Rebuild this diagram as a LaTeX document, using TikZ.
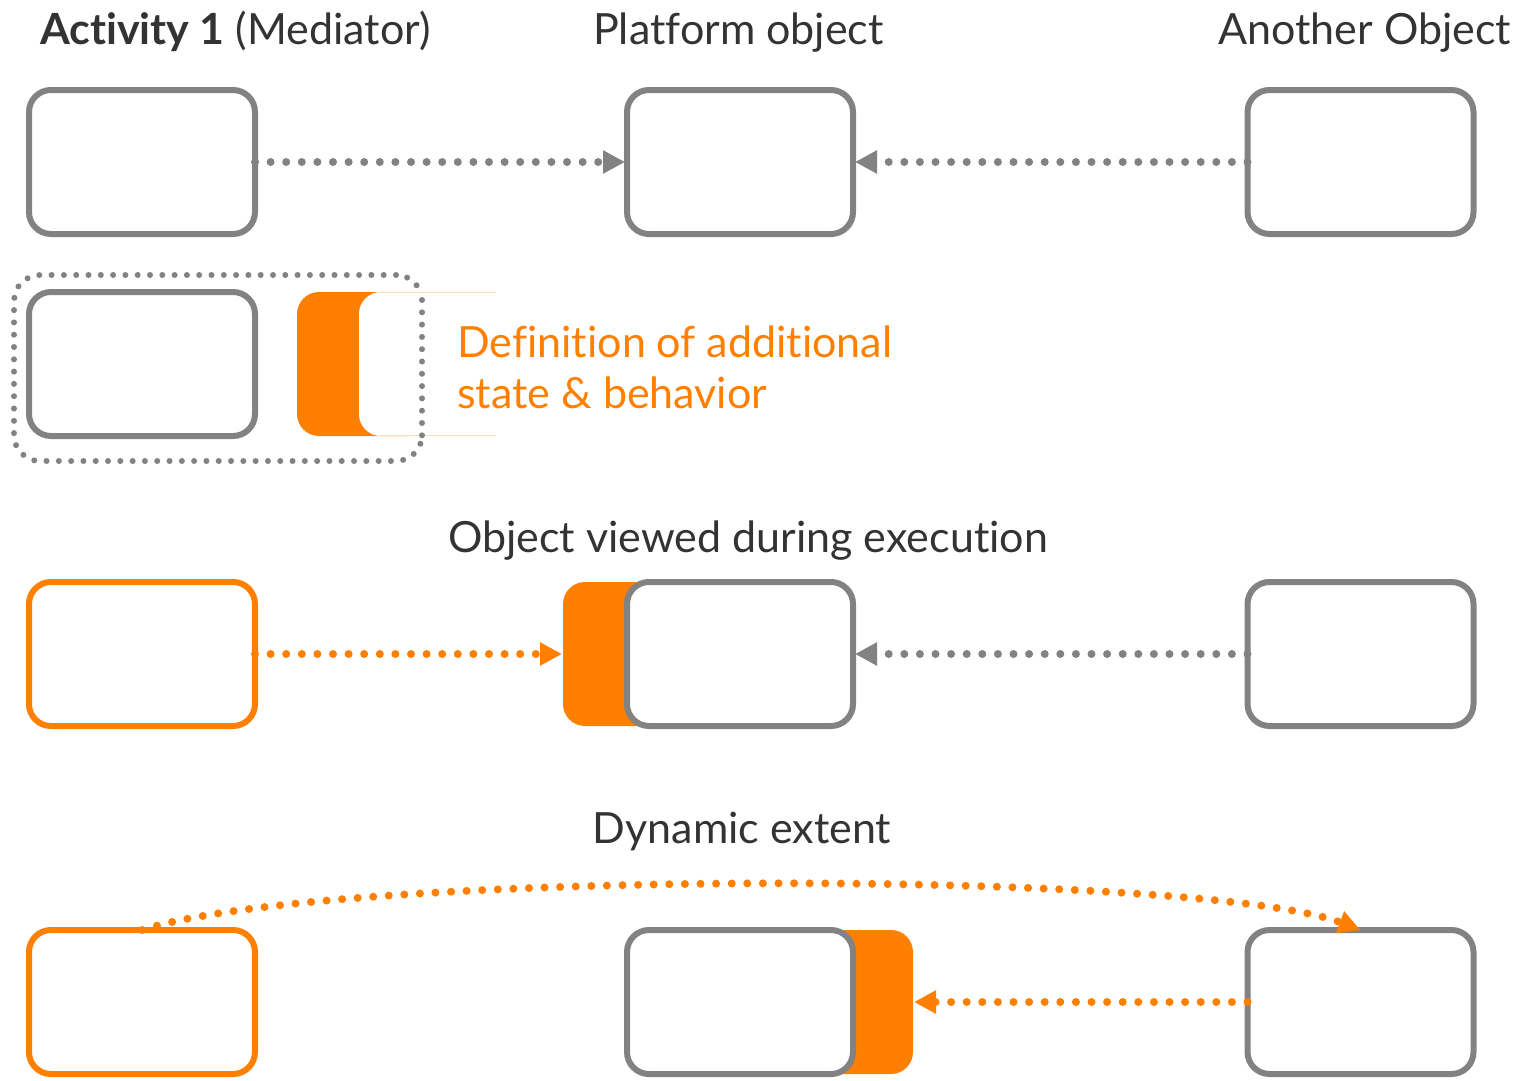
\documentclass[tikz,border=0pt]{standalone}
\usepackage{fontspec}
\setmainfont{Lato}[Ligatures=CommonOff]
\usetikzlibrary{arrows.meta}
\definecolor{og}{HTML}{FF8000}
\definecolor{ogl}{HTML}{FFDDB8}
\definecolor{gr}{HTML}{828282}
\definecolor{tx}{HTML}{333333}
\begin{document}
\begin{tikzpicture}[x=1pt,y=-1pt,
  box/.style={draw=gr,line width=6pt,rounded corners=22pt,minimum width=226pt,
    minimum height=144pt,inner sep=0pt,outer sep=0pt,fill=white},
  obox/.style={box,draw=og},
  ofill/.style={fill=og,rounded corners=22pt,inner sep=0pt,outer sep=0pt,minimum height=144pt},
  dots/.style={line width=8pt,line cap=round,dash pattern=on 0pt off 15.6pt},
  tip/.style={-{Triangle[length=22pt,width=22pt]}},
  lbl/.style={font=\fontsize{43}{51}\selectfont,text=tx,inner sep=0pt,anchor=base west},
  olbl/.style={lbl,text=og}]

\useasboundingbox (0,0) rectangle (1528,1081);

% column titles
\node[lbl] (h1) at (40,45) {\textbf{Activity 1} (Mediator)};
\node[lbl] (h2) at (593,45) {Platform object};
\node[lbl] (h3) at (1218,45) {Another Object};

% row 1: plain references
\node[box] (a1) at (142,162) {};
\node[box] (p1) at (740,162) {};
\node[box] (o1) at (1360.5,162) {};
\draw[gr,dots,tip,shorten >=2pt] (a1.east) -- (p1.west);
\draw[gr,dots,tip,shorten >=2pt] (o1.west) -- (p1.east);

% row 2: mediator with its extension definition
\node[draw=gr,line width=6pt,line cap=round,dash pattern=on 0pt off 12.3pt,
  rounded corners=26pt,minimum width=408pt,minimum height=186pt,inner sep=0pt]
  (grp) at (218,368) {};
\node[box] (a2) at (142,364) {};
\node[ofill,minimum width=133pt] (x2) at (363.5,364) {};
\fill[white,rounded corners=22pt] (359,292) rectangle (540,436);
\draw[ogl,line width=1.2pt] (380,292.5) -- (496,292.5);
\draw[ogl,line width=1.2pt] (380,435.5) -- (496,435.5);
\draw[gr,line width=6pt,line cap=round,dash pattern=on 0pt off 12.3pt]
  (422,300) -- (422,440);
\node[olbl] (d1) at (457,357) {Definition of additional};
\node[olbl] (d2) at (457,408) {state \& behavior};

% row 3: object as seen during execution
\node[lbl,anchor=base] (t3) at (748,552) {Object viewed during execution};
\node[ofill,minimum width=137pt] (x3) at (631.5,654) {};
\node[obox] (a3) at (142,654) {};
\node[box] (p3) at (740,654) {};
\node[box] (o3) at (1360.5,654) {};
\draw[og,dots,tip,shorten >=1pt] (a3.east) -- (x3.west);
\draw[gr,dots,tip,shorten >=2pt] (o3.west) -- (p3.east);

% row 4: dynamic extent
\node[lbl,anchor=base] (t4) at (742,843) {Dynamic extent};
\node[ofill,minimum width=130pt] (x4) at (848,1002) {};
\node[obox] (a4) at (142,1002) {};
\node[box] (p4) at (740,1002) {};
\node[box] (o4) at (1360.5,1002) {};
\draw[og,dots,tip,shorten >=1pt] (o4.west) -- (x4.east);
\draw[og,dots,tip] (a4.north) .. controls (330,869) and (1200,869) .. (o4.north);
\end{tikzpicture}
\end{document}
